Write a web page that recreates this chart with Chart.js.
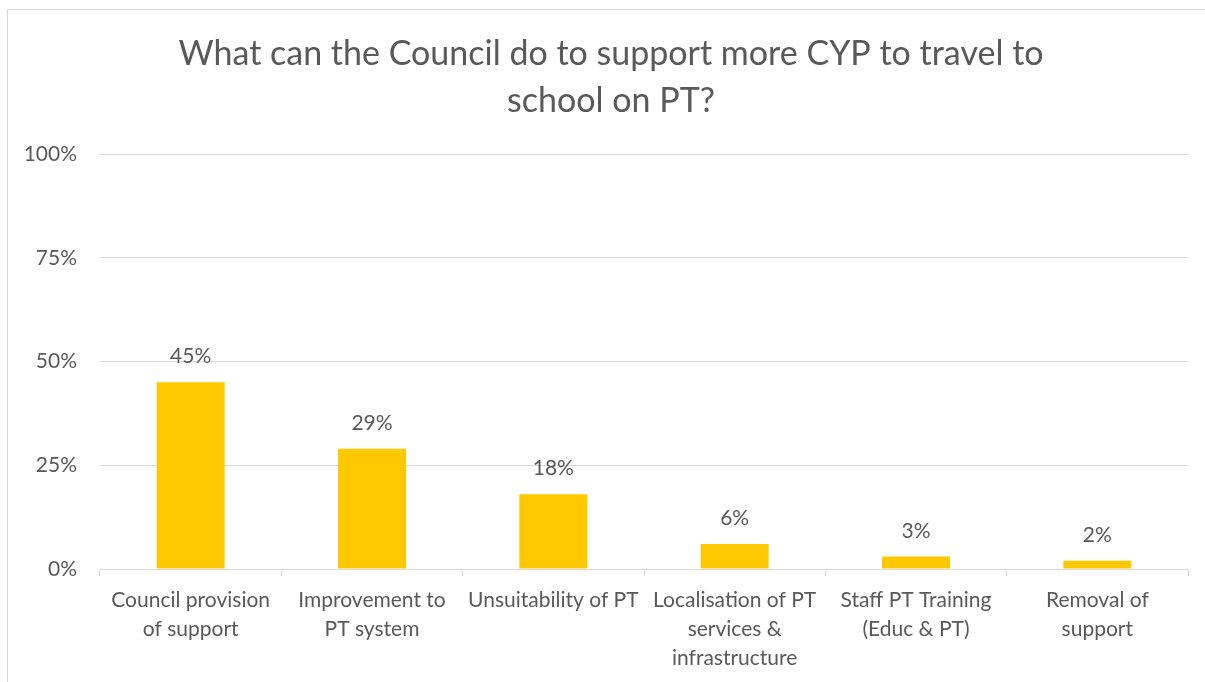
<!DOCTYPE html>
<html>
<head>
<meta charset="utf-8">
<script src="https://cdn.jsdelivr.net/npm/chart.js@4/dist/chart.umd.min.js"></script>
<style>
  html, body { margin: 0; padding: 0; background: #fff; overflow: hidden; }
  #frame {
    position: absolute; left: 7px; top: 9px;
    width: 1206px; height: 700px;
    border: 1px solid #d9d9d9; background: #fff;
  }
  #chart { position: absolute; left: 0; top: 0; }
</style>
</head>
<body>
<div id="frame"><canvas id="chart" width="1206" height="672"></canvas></div>
<script>
const titleLines = ['What can the Council do to support more CYP to travel to', 'school on PT?'];
const categories = [
  ['Council provision', 'of support'],
  ['Improvement to', 'PT system'],
  ['Unsuitability of PT'],
  ['Localisation of PT', 'services &', 'infrastructure'],
  ['Staff PT Training', '(Educ & PT)'],
  ['Removal of', 'support']
];
const shares = [45, 29, 18, 6, 3, 2];
const yTicks = [0, 25, 50, 75, 100];

const TEXT = '#595959';
const FONT = 'Lato, "Open Sans", sans-serif';

const titlePlugin = {
  id: 'titleLines',
  afterDraw(chart) {
    const ctx = chart.ctx;
    ctx.save();
    ctx.fillStyle = TEXT;
    ctx.font = '34px ' + FONT;
    ctx.textAlign = 'center';
    ctx.textBaseline = 'alphabetic';
    const cx = chart.width / 2;
    ctx.fillText(titleLines[0], cx, 55);
    ctx.fillText(titleLines[1], cx, 102);
    ctx.restore();
  }
};

const valueLabels = {
  id: 'valueLabels',
  afterDatasetsDraw(chart) {
    const ctx = chart.ctx;
    const meta = chart.getDatasetMeta(0);
    ctx.save();
    ctx.fillStyle = TEXT;
    ctx.font = '21px ' + FONT;
    ctx.textAlign = 'center';
    ctx.textBaseline = 'alphabetic';
    meta.data.forEach((bar, i) => {
      ctx.fillText(shares[i] + '%', bar.x, bar.y - 19);
    });
    ctx.restore();
  }
};

new Chart(document.getElementById('chart'), {
  type: 'bar',
  data: {
    labels: categories,
    datasets: [{
      data: shares,
      backgroundColor: '#FFC800',
      borderWidth: 0,
      categoryPercentage: 1,
      barPercentage: 0.375
    }]
  },
  options: {
    responsive: false,
    animation: false,
    layout: { padding: { top: 144, right: 26, left: 0, bottom: 0 } },
    plugins: { legend: { display: false }, tooltip: { enabled: false }, title: { display: false } },
    scales: {
      x: {
        offset: true,
        grid: { drawOnChartArea: false, offset: true, color: '#d9d9d9', tickLength: 7, lineWidth: 1 },
        border: { display: true, color: '#d9d9d9', width: 1 },
        ticks: {
          color: TEXT, font: { family: FONT, size: 21, lineHeight: 1.38 },
          padding: 10, maxRotation: 0, autoSkip: false
        },
        afterFit(scale) { scale.height = 113; }
      },
      y: {
        min: 0, max: 100,
        afterBuildTicks(scale) { scale.ticks = yTicks.map(v => ({ value: v })); },
        grid: { color: '#d9d9d9', drawTicks: false, lineWidth: 1 },
        border: { display: false },
        ticks: {
          color: TEXT, font: { family: FONT, size: 21 }, padding: 23,
          callback: v => v + '%'
        },
        afterFit(scale) { scale.width = 92; }
      }
    }
  },
  plugins: [titlePlugin, valueLabels]
});
</script>
</body>
</html>
